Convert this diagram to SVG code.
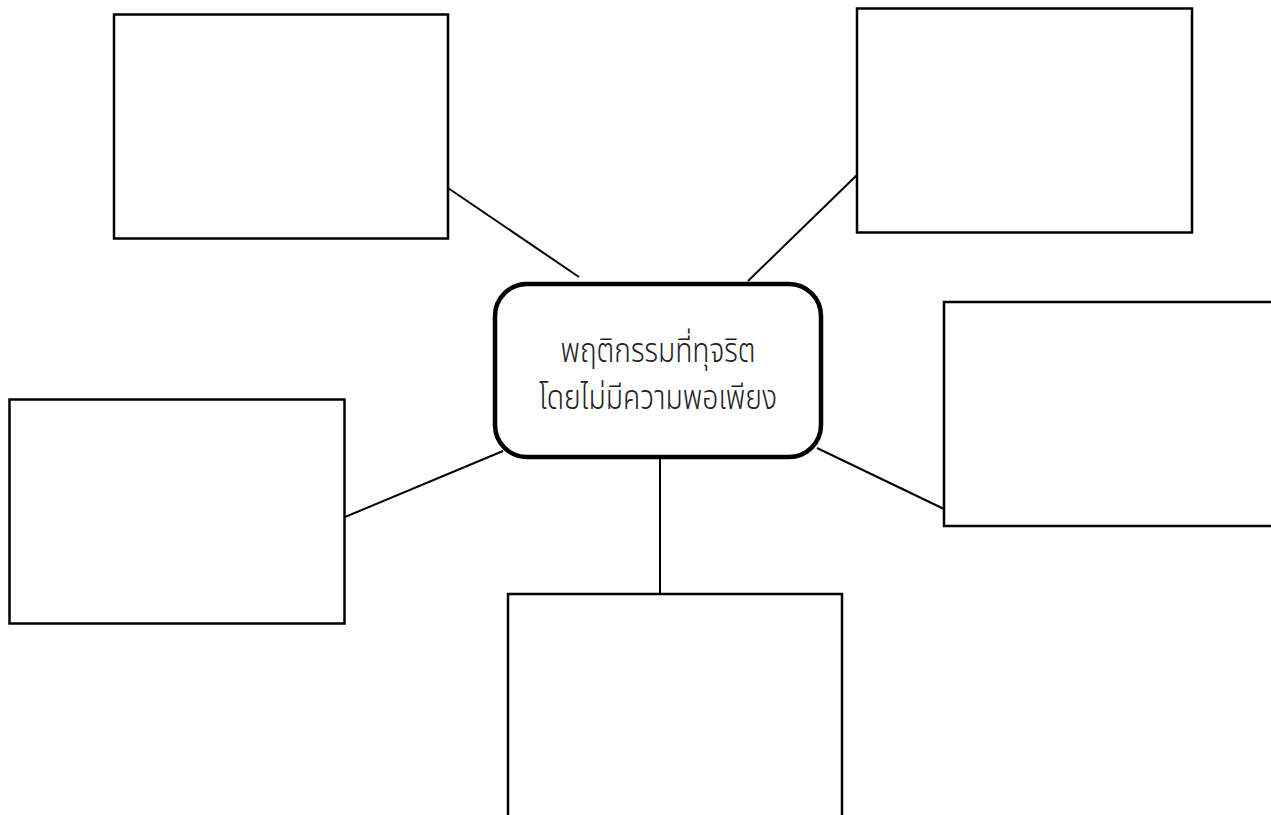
<svg xmlns="http://www.w3.org/2000/svg" width="1271" height="815" viewBox="0 0 1271 815">
<style>
.box{fill:#fff;stroke:#000;stroke-width:2.5}
.conn line{stroke:#000;stroke-width:2}
.center{fill:#fff;stroke:#000;stroke-width:4.5}
.lbl{font-family:"Noto Sans Thai","Noto Sans","Liberation Sans",sans-serif;font-size:34px;font-weight:300;fill:#222;text-anchor:middle}
</style>
<rect width="1271" height="815" fill="#fff"/>
<g id="connectors" class="conn">
<line x1="448" y1="188" x2="579" y2="277"/>
<line x1="857" y1="175" x2="748" y2="281"/>
<line x1="345" y1="517" x2="503" y2="451"/>
<line x1="817" y1="448" x2="944" y2="509"/>
<line x1="660" y1="456" x2="660" y2="594"/>
</g>
<g id="box-top-left"><rect class="box" x="114" y="14.5" width="334" height="224"/></g>
<g id="box-top-right"><rect class="box" x="857" y="8.5" width="335" height="224"/></g>
<g id="box-right"><rect class="box" x="944" y="302" width="340" height="224"/></g>
<g id="box-left"><rect class="box" x="9.5" y="399.5" width="335" height="224"/></g>
<g id="box-bottom"><rect class="box" x="508" y="594" width="334" height="240"/></g>
<g id="center">
<rect class="center" x="495" y="284" width="326" height="173" rx="32" ry="32"/>
<text class="lbl" x="658" y="362" textLength="195" lengthAdjust="spacingAndGlyphs">พฤติกรรมที่ทุจริต</text>
<text class="lbl" x="658" y="409" textLength="238" lengthAdjust="spacingAndGlyphs">โดยไม่มีความพอเพียง</text>
</g>
</svg>
